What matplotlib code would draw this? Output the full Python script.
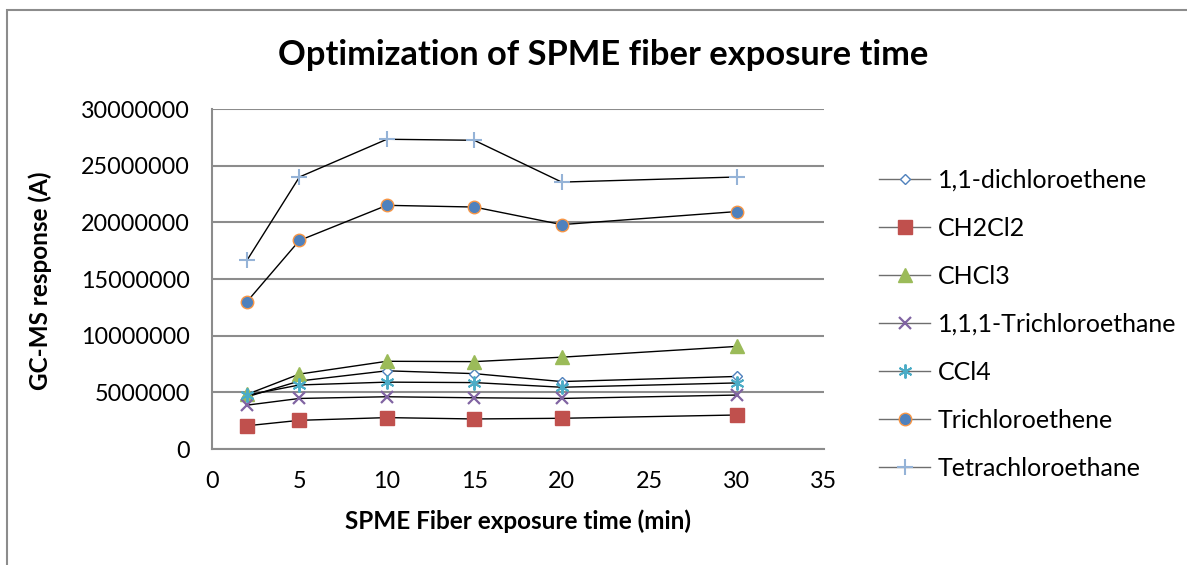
import matplotlib.pyplot as plt
from matplotlib.patches import Rectangle

plt.rcParams['font.family'] = ['Lato', 'DejaVu Sans']

# exposure time (min)
times = [2, 5, 10, 15, 20, 30]

# GC-MS peak areas per compound
dichloroethene = [4600000, 6000000, 6900000, 6650000, 5950000, 6400000]
ch2cl2 = [2050000, 2530000, 2770000, 2650000, 2710000, 3000000]
chcl3 = [4820000, 6610000, 7740000, 7710000, 8100000, 9050000]
trichloroethane = [3870000, 4460000, 4610000, 4520000, 4460000, 4760000]
ccl4 = [4750000, 5650000, 5900000, 5860000, 5450000, 5830000]
trichloroethene = [13000000, 18400000, 21500000, 21350000, 19800000, 20950000]
tetrachloroethane = [16650000, 24000000, 27330000, 27240000, 23550000, 24000000]

series = [
    ('1,1-dichloroethene', dichloroethene, dict(marker='D', ms=5, mfc='white', mec='#4F81BD', mew=1.0)),
    ('CH2Cl2', ch2cl2, dict(marker='s', ms=10, mfc='#C0504D', mec='#C0504D')),
    ('CHCl3', chcl3, dict(marker='^', ms=10, mfc='#9BBB59', mec='#9BBB59')),
    ('1,1,1-Trichloroethane', trichloroethane, dict(marker='x', ms=9, mec='#8064A2', mew=1.6)),
    ('CCl4', ccl4, dict(marker=(6, 2, 0), ms=10, mec='#4BACC6', mew=1.4)),
    ('Trichloroethene', trichloroethene, dict(marker='o', ms=9, mfc='#4F81BD', mec='#F79646', mew=1.0)),
    ('Tetrachloroethane', tetrachloroethane, dict(marker='+', ms=11, mec='#95B3D7', mew=1.5)),
]

W, H = 1187, 565
fig = plt.figure(figsize=(W / 100, H / 100), dpi=100)
ax = fig.add_axes([212 / W, 1 - 449 / H, 612 / W, 340 / H])

for name, vals, style in series:
    ax.plot(times, vals, color='black', lw=1.0, label=name, **style)

ax.set_xlim(0, 35)
ax.set_ylim(0, 30000000)
ax.set_xticks(range(0, 36, 5))
ax.set_yticks(range(0, 30000001, 5000000))
ax.yaxis.set_major_formatter(plt.FuncFormatter(lambda v, p: f'{int(v)}'))
ax.tick_params(length=0, labelsize=16.8)
ax.tick_params(axis='x', pad=16)
ax.tick_params(axis='y', pad=16)
ax.grid(axis='y', color='#8C8C8C', lw=1.5)
ax.set_axisbelow(True)
for s in ['top', 'right']:
    ax.spines[s].set_visible(False)
for s in ['left', 'bottom']:
    ax.spines[s].set_color('#8C8C8C')
    ax.spines[s].set_linewidth(1.5)

# title is centred over the whole chart area, not just the plot
ax.set_title('Optimization of SPME fiber exposure time', fontsize=24.8, fontweight='bold',
             x=(603 - 212) / 612, y=(449 - 63) / 340, va='center')
ax.set_xlabel('SPME Fiber exposure time (min)', fontsize=17.5, fontweight='bold', va='center')
ax.xaxis.set_label_coords(0.5, (449 - 521) / 340)
ax.set_ylabel('GC-MS response (A)', fontsize=17.5, fontweight='bold', va='center')
ax.yaxis.set_label_coords((40 - 212) / 612, (449 - 281) / 340)

leg = ax.legend(loc='center left', bbox_to_anchor=(879 / W, 1 - 324.5 / H), bbox_transform=fig.transFigure,
                frameon=False, fontsize=18, labelspacing=1.0, handlelength=2.05, handletextpad=0.3,
                borderaxespad=0, borderpad=0)
for h in leg.get_lines():
    h.set_color('#6E6E6E')

fig.patches.append(Rectangle((7 / W, -0.1), 1.2, 1 - 10 / H + 0.1, transform=fig.transFigure,
                             fill=False, edgecolor='#8C8C8C', lw=1.5))

fig.savefig('out.png', dpi=100)
